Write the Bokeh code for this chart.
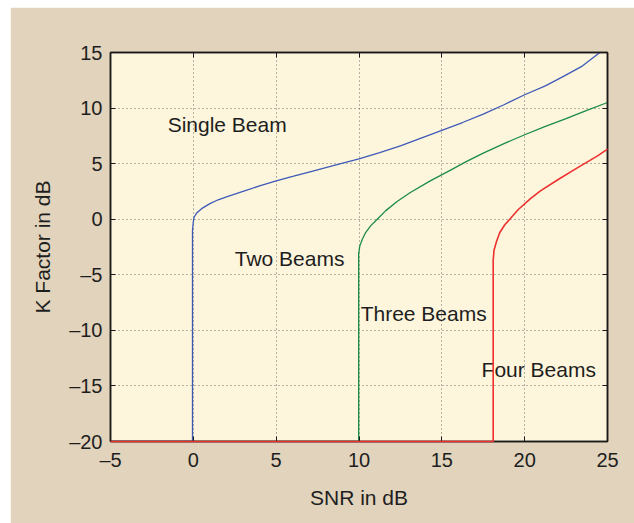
from bokeh.plotting import figure
from bokeh.models import LinearAxis, FixedTicker, Range1d, ColumnDataSource
from bokeh.core.properties import value
from bokeh.embed import file_html
from bokeh.resources import INLINE

# ---- data ----
x_ticks = [-5, 0, 5, 10, 15, 20, 25]
y_ticks = [-20, -15, -10, -5, 0, 5, 10, 15]

single_x = [-5, -0.05, -0.05, 0.0, 0.05, 0.2, 0.5, 1.0, 1.5, 2.0, 2.5, 3.0, 4.0,
            5.0, 6.0, 7.27, 8.5, 10.0, 11.25, 12.5, 13.75, 15.0, 16.25, 17.5,
            18.75, 20.0, 21.25, 22.4, 23.5, 24.5, 25.0]
single_y = [-20, -20, -1.0, -0.2, 0.2, 0.55, 0.95, 1.4, 1.75, 2.0, 2.25, 2.5, 3.0,
            3.46, 3.85, 4.36, 4.85, 5.42, 6.0, 6.6, 7.3, 8.0, 8.7, 9.45,
            10.3, 11.2, 12.0, 12.9, 13.8, 14.95, 15.5]

two_x = [-5, 9.98, 9.98, 10.05, 10.2, 10.4, 10.7, 11.1, 11.6, 12.3, 13.1, 14.3,
         15.5, 16.5, 17.5, 18.75, 20.0, 21.25, 22.5, 23.75, 25.0]
two_y = [-20, -20, -3.1, -2.4, -1.8, -1.2, -0.6, 0.0, 0.75, 1.6, 2.4, 3.45,
         4.4, 5.2, 5.95, 6.8, 7.6, 8.35, 9.05, 9.8, 10.5]

four_x = [-5, 18.1, 18.1, 18.15, 18.3, 18.5, 18.8, 19.1, 19.6, 20.35, 20.95, 22.0,
          23.1, 24.4, 25.0]
four_y = [-20, -20, -3.7, -2.8, -2.0, -1.2, -0.5, 0.0, 0.85, 1.85, 2.55, 3.55,
          4.55, 5.7, 6.3]

label_text = ["Single Beam", "Two Beams", "Three Beams", "Four Beams"]
label_x = [-1.55, 2.5, 10.1, 17.4]
label_y = [8.55, -3.55, -8.45, -13.5]

x_label = "SNR in dB"
y_label = "K Factor in dB"

FONT = "Liberation Sans"
TXT = "#1e1e1e"

p = figure(width=624, height=516,
           x_range=Range1d(-5, 25), y_range=Range1d(-20, 15),
           output_backend="svg", toolbar_location=None,
           min_border_left=100, min_border_right=27,
           min_border_top=45, min_border_bottom=82,
           background_fill_color="#fdf5dc", border_fill_color="#e1d3bc",
           outline_line_color="#1a1a1a", outline_line_width=1.5)
p.margin = (7, 0, 0, 10)

def minus(v):
    return str(v).replace("-", "\u2013")

for ax in (p.xaxis[0], p.yaxis[0]):
    ax.major_tick_in = 5
    ax.major_tick_out = 0
    ax.minor_tick_line_color = None
    ax.axis_line_color = "#1a1a1a"
    ax.axis_line_width = 1.5
    ax.major_tick_line_color = "#1a1a1a"
    ax.major_label_text_font = FONT
    ax.major_label_text_font_size = "20px"
    ax.major_label_text_color = TXT
    ax.axis_label_text_font = FONT
    ax.axis_label_text_font_size = "21px"
    ax.axis_label_text_font_style = "normal"
    ax.axis_label_text_color = TXT

p.xaxis[0].ticker = FixedTicker(ticks=x_ticks)
p.yaxis[0].ticker = FixedTicker(ticks=y_ticks)
p.xaxis[0].major_label_overrides = {t: minus(t) for t in x_ticks}
p.yaxis[0].major_label_overrides = {t: minus(t) for t in y_ticks}
p.xaxis[0].major_label_standoff = 7
p.yaxis[0].major_label_standoff = 8
p.xaxis[0].axis_label = x_label
p.yaxis[0].axis_label = y_label
p.xaxis[0].axis_label_standoff = 12
p.yaxis[0].axis_label_standoff = 12

for loc, ticks in (("right", y_ticks), ("above", x_ticks)):
    ax = LinearAxis(ticker=FixedTicker(ticks=ticks))
    ax.major_label_overrides = {t: "" for t in ticks}
    ax.major_label_text_font_size = "1px"
    ax.major_tick_in = 5
    ax.major_tick_out = 0
    ax.minor_tick_line_color = None
    ax.axis_line_color = "#1a1a1a"
    ax.axis_line_width = 1.5
    ax.major_tick_line_color = "#1a1a1a"
    ax.major_label_standoff = 0
    p.add_layout(ax, loc)

p.xgrid.ticker = FixedTicker(ticks=x_ticks)
p.ygrid.ticker = FixedTicker(ticks=y_ticks)
for g in (p.xgrid[0], p.ygrid[0]):
    g.grid_line_color = "#555555"
    g.grid_line_dash = "1 3"
    g.grid_line_alpha = 0.85
    g.grid_line_width = 1

p.line(single_x, single_y, line_color="#3e5ab8", line_width=1.3)
p.line(two_x, two_y, line_color="#1b8c48", line_width=1.3)
r = p.line(four_x, four_y, line_color="#ee3030", line_width=1.6)
r.level = "overlay"

src = ColumnDataSource(dict(x=label_x, y=label_y, t=label_text))
p.text(x="x", y="y", text="t", source=src, text_font=value(FONT),
       text_font_size="21px", text_color=TXT, text_baseline="alphabetic",
       text_align="left")

open("out.html", "w").write(file_html(p, INLINE))
